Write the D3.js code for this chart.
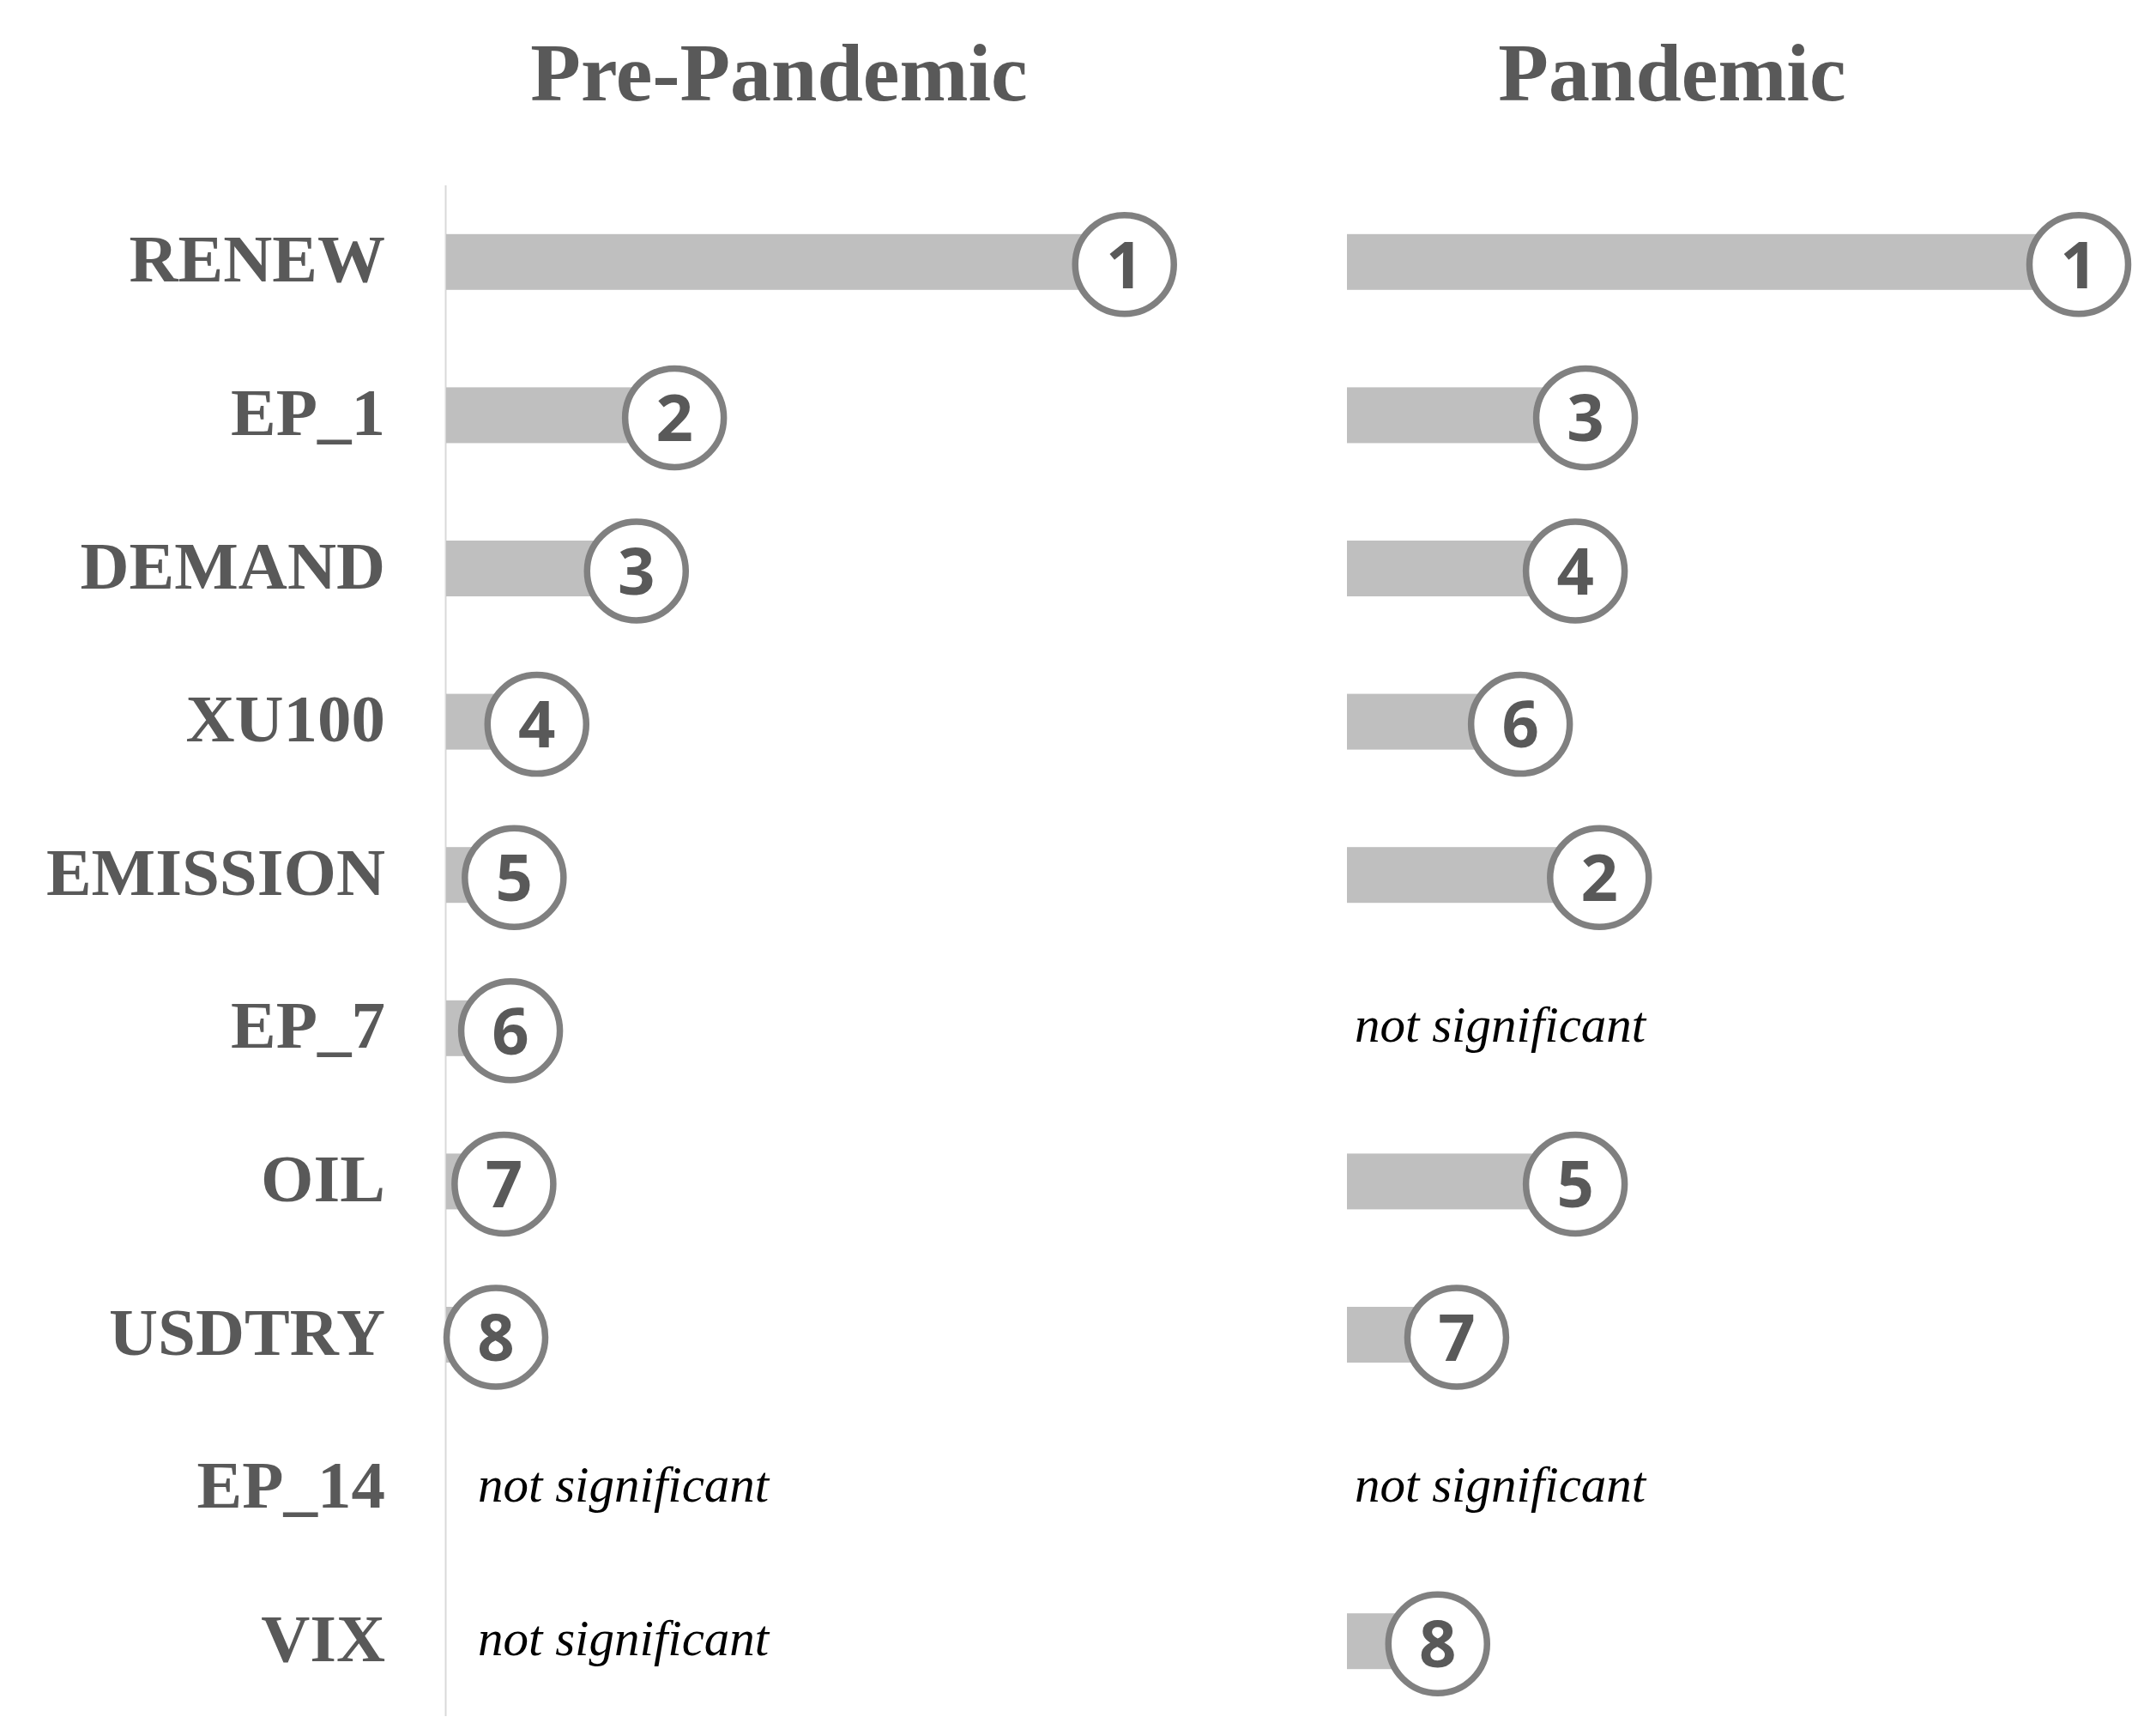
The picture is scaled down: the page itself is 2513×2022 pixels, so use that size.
<!DOCTYPE html>
<html>
<head>
<meta charset="utf-8">
<script src="https://cdn.jsdelivr.net/npm/d3@7"></script>
<style>
  html, body { margin: 0; padding: 0; background: #fff; }
  svg { display: block; }
</style>
</head>
<body>
<svg id="chart"></svg>
<script>
// variables, top to bottom
const variables = ['RENEW', 'EP_1', 'DEMAND', 'XU100', 'EMISSION', 'EP_7', 'OIL', 'USDTRY', 'EP_14', 'VIX'];

// importance (bar length, pandemic RENEW = 100), null = not significant
const preValues = [92.7, 31.2, 26.0, 12.4, 9.3, 8.8, 7.9, 6.8, null, null];
const preRanks  = [1, 2, 3, 4, 5, 6, 7, 8, null, null];

const panValues = [100, 32.6, 31.2, 23.7, 34.5, null, 31.2, 15.0, null, 12.4];
const panRanks  = [1, 3, 4, 6, 2, null, 5, 7, null, 8];

const panelTitles = ['Pre-Pandemic', 'Pandemic'];

const W = 2513, H = 2022;
const svg = d3.select('#chart').attr('width', W).attr('height', H);

const gray = '#595959';

// rows
const y = d3.scaleBand()
    .domain(variables)
    .range([216, 2002])
    .padding(0);
const barH = 65;

const panels = [
    { title: panelTitles[0], values: preValues, ranks: preRanks, x0: 520, titleX: 908, nsDx: 37 },
    { title: panelTitles[1], values: panValues, ranks: panRanks, x0: 1570, titleX: 1949, nsDx: 9 }
];

// vertical axis line
svg.append('line')
    .attr('x1', 519.5).attr('x2', 519.5)
    .attr('y1', 216).attr('y2', 2000)
    .attr('stroke', '#d9d9d9')
    .attr('stroke-width', 2);

// row labels
svg.selectAll('text.rowlabel')
    .data(variables)
    .enter().append('text')
    .attr('class', 'rowlabel')
    .attr('x', 449)
    .attr('y', d => y(d) + y.bandwidth() / 2 + 23)
    .attr('text-anchor', 'end')
    .style('font-family', '"Liberation Serif", "Times New Roman", serif')
    .style('font-weight', 'bold')
    .style('font-size', '79px')
    .style('fill', gray)
    .text(d => d);

panels.forEach(p => {
    const x = d3.scaleLinear().domain([0, 100]).range([p.x0, p.x0 + 853]);
    const rows = variables.map((v, i) => ({ v, value: p.values[i], rank: p.ranks[i] }));
    const g = svg.append('g');

    // title
    g.append('text')
        .attr('x', p.titleX)
        .attr('y', 117)
        .attr('text-anchor', 'middle')
        .style('font-family', '"Liberation Serif", "Times New Roman", serif')
        .style('font-weight', 'bold')
        .style('font-size', '96px')
        .style('fill', gray)
        .text(p.title);

    const sig = rows.filter(d => d.value != null);
    const ns = rows.filter(d => d.value == null);

    // bars
    g.selectAll('rect.bar')
        .data(sig)
        .enter().append('rect')
        .attr('class', 'bar')
        .attr('x', x(0))
        .attr('y', d => y(d.v) + y.bandwidth() / 2 - barH / 2)
        .attr('width', d => x(d.value) - x(0))
        .attr('height', barH)
        .attr('fill', '#bfbfbf');

    // rank circles
    g.selectAll('circle.rank')
        .data(sig)
        .enter().append('circle')
        .attr('class', 'rank')
        .attr('cx', d => x(d.value))
        .attr('cy', d => y(d.v) + y.bandwidth() / 2 + 3)
        .attr('r', 57.5)
        .attr('fill', '#fff')
        .attr('stroke', '#808080')
        .attr('stroke-width', 7.5);

    g.selectAll('text.rank')
        .data(sig)
        .enter().append('text')
        .attr('class', 'rank')
        .attr('x', d => x(d.value))
        .attr('y', d => y(d.v) + y.bandwidth() / 2 + 3)
        .attr('dy', '0.36em')
        .attr('text-anchor', 'middle')
        .style('font-family', '"Open Sans", sans-serif')
        .style('font-weight', 'bold')
        .style('font-size', '76px')
        .style('fill', gray)
        .text(d => d.rank);

    // not significant
    g.selectAll('text.ns')
        .data(ns)
        .enter().append('text')
        .attr('class', 'ns')
        .attr('x', x(0) + p.nsDx)
        .attr('y', d => y(d.v) + y.bandwidth() / 2 + 16)
        .style('font-family', '"Liberation Serif", "Times New Roman", serif')
        .style('font-style', 'italic')
        .style('font-size', '59px')
        .style('fill', '#000')
        .text('not significant');
});
</script>
</body>
</html>
